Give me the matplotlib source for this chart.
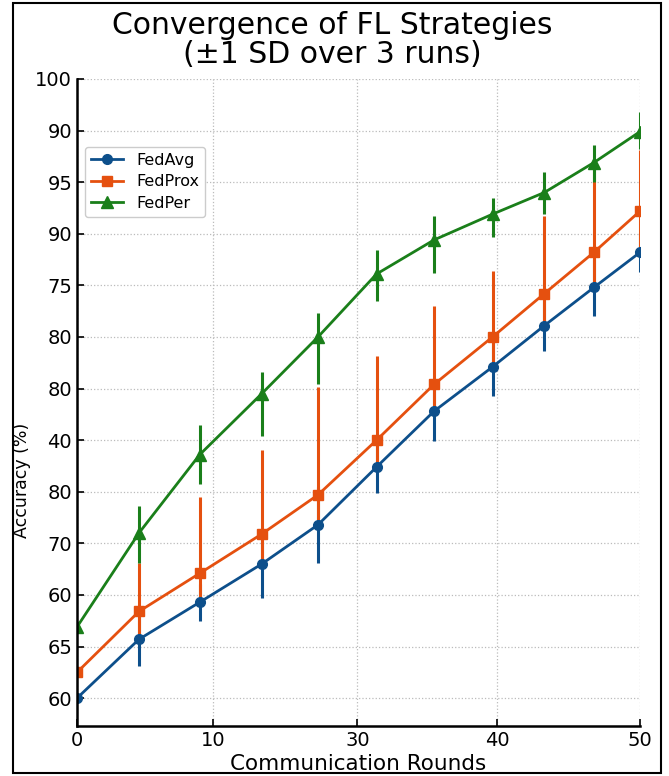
import matplotlib
matplotlib.use('Agg')
import matplotlib.pyplot as plt
from matplotlib.patches import Rectangle
from matplotlib.lines import Line2D

# rounds as placed on the chart (tick labels read 0,10,30,40,50)
rounds = [0, 5.5, 10.9, 16.4, 21.4, 26.6, 31.7, 36.9, 41.5, 45.9, 50]

fedavg = [40.0, 45.7, 49.3, 53.0, 56.8, 62.4, 67.8, 72.1, 76.1, 79.8, 83.2]
fedavg_sd = [0, 2.6, 1.8, 3.3, 3.7, 2.5, 2.9, 2.8, 2.5, 2.8, 1.9]

fedprox = [42.5, 48.4, 52.1, 55.9, 59.7, 65.0, 70.4, 75.0, 79.2, 83.2, 87.2]
fedprox_lo = [0, 2.7, 2.8, 2.9, 2.9, 2.6, 2.6, 2.9, 3.1, 3.4, 4.0]
fedprox_hi = [0, 4.7, 7.4, 8.1, 10.5, 8.2, 7.6, 6.4, 7.5, 8.6, 5.9]

fedper = [46.9, 56.0, 63.6, 69.5, 75.0, 81.1, 84.4, 86.9, 89.0, 91.9, 94.9]
fedper_lo = [0, 2.9, 2.8, 4.1, 4.6, 2.6, 3.2, 2.2, 2.1, 1.9, 1.7]
fedper_hi = [0, 2.6, 2.9, 2.1, 2.3, 2.3, 2.3, 1.6, 2.0, 1.7, 1.9]

xtick_pos = [0, 12.1, 24.9, 37.3, 50]
xtick_labels = ['0', '10', '30', '40', '50']
ytick_pos = list(range(40, 101, 5))
ytick_labels = ['60', '65', '60', '70', '80', '40', '80', '80', '75', '90', '95', '90', '100']

c_avg = '#0d4f8b'
c_prox = '#e5500f'
c_per = '#1a7f1a'

fig = plt.figure(figsize=(6.69, 7.76), dpi=100)
ax = fig.add_axes([0.1151, 0.0644, 0.8416, 0.8338])

ax.errorbar(rounds, fedavg, yerr=fedavg_sd, color=c_avg, marker='o', ms=7,
            lw=2, elinewidth=2.2, capsize=0)
ax.errorbar(rounds, fedprox, yerr=[fedprox_lo, fedprox_hi], color=c_prox, marker='s', ms=7.5,
            lw=2, elinewidth=2.2, capsize=0)
ax.errorbar(rounds, fedper, yerr=[fedper_lo, fedper_hi], color=c_per, marker='^', ms=9,
            lw=2, elinewidth=2.2, capsize=0)

ax.set_xlim(0, 50)
ax.set_ylim(37.3, 100)
ax.set_xticks(xtick_pos)
ax.set_xticklabels(xtick_labels)
ax.set_yticks(ytick_pos)
ax.set_yticklabels(ytick_labels)
ax.tick_params(labelsize=14, direction='in', length=5, width=1.2)
ax.grid(True, linestyle=':', color='#bbbbbb', linewidth=0.9)

for s in ['top', 'right']:
    ax.spines[s].set_visible(False)
for s in ['left', 'bottom']:
    ax.spines[s].set_linewidth(1.8)

ax.set_xlabel('Communication Rounds', fontsize=15.5, labelpad=3)
ax.set_ylabel('Accuracy (%)', fontsize=12.5)
ax.yaxis.set_label_coords(-0.082, 0.38)
fig.text(0.497, 0.986, 'Convergence of FL Strategies\n(±1 SD over 3 runs)', fontsize=21.5,
         ha='center', va='top', linespacing=1.0)

handles = [Line2D([], [], color=c_avg, marker='o', ms=7, lw=2),
           Line2D([], [], color=c_prox, marker='s', ms=7.5, lw=2),
           Line2D([], [], color=c_per, marker='^', ms=9, lw=2)]
ax.legend(handles, ['FedAvg', 'FedProx', 'FedPer'], loc='upper left',
          bbox_to_anchor=(0.0, 0.908), fontsize=11.5, framealpha=1,
          edgecolor='#cccccc', handlelength=2.0, labelspacing=0.4)

fig.patches.append(Rectangle((13 / 669, 1 - 773 / 776), 648 / 669, 770 / 776,
                             transform=fig.transFigure, fill=False, edgecolor='black', linewidth=1.5))

plt.savefig('out.png', dpi=100)
plt.close()
